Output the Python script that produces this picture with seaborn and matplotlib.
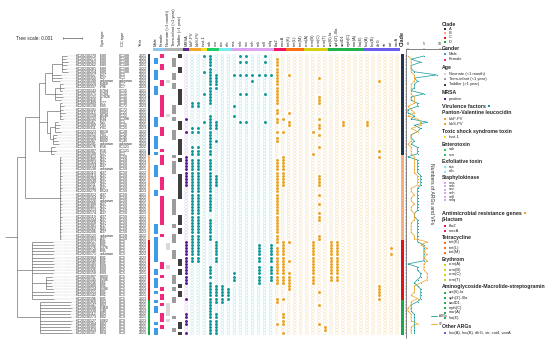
import matplotlib
matplotlib.use("Agg")
import matplotlib.pyplot as plt
import numpy as np
import pandas as pd
import seaborn as sns

sns.set_theme(style="white")
plt.rcParams["font.family"] = ["Liberation Sans", "DejaVu Sans"]

# ---------------- data ----------------
clade = ("A" * 32) + ("B" * 27) + ("C" * 19) + ("D" * 11)
gender = ("FMMFFMMMFFMMMFFFFFFFMMMFFFMMMMFM"
          "FFFMMMMFFFFMMFFFFFFFFFMMMFM"
          "MMMMMMMFFMMFMMMFMFF"
          "MFMMFFFMFMM")
age = ("DTTTDDTTNTTDDDDDTTTNTDDDTTTDDDDD"
       "TDTTTTDDDDDDDDTTTTTDDDTDDTT"
       "TNNTTTDDNDDTTTDTDDT"
       "TNNNNTNDDTD")
mrsa = "20,24,32-41,59-72,77,82-85,88"

vf_names = ["lukF-PV", "lukS-PV", "tsst-1", "sak", "scn", "eta", "etb",
            "sea", "seb", "sec", "seh", "sek", "sell", "selq"]
vf_rows = ["15-16,23-24,29-31,33-65", "15-16,23-24,29-31,33-65", "0,5,12,21",
           "0-15,19-31,33-49,52-58,67-70,72-88", "6-10,21-23,27,38-41,59-65,73-78,82-88",
           "73-78", "74-77", "6,16,19,69-71", "0,2,6,12,21", "0,2,6,12,21",
           "6,8", "6,60-65,67-72", "0,2,6,12,21", "6,60-65,67-71"]
arg_names = ["blaZ", "mecA", "tet(K)", "tet(L)", "tet(M)", "erm(A)", "erm(B)",
             "erm(C)", "erm(T)", "ant(6)-Ia", "aph(3')-IIIa", "aadD1", "mph(C)",
             "msr(A)", "lsa(E)", "lnu(A)", "lnu(B)", "dfrG", "str", "cat", "vanA"]
arg_rows = ["1-15,17-18,20-21,24,26-27,33-59,61-72,77-78,85",
            "20,24,32-41,59-72,77,82-85,88", "6,18,21-22,59,65,69-74", "", "",
            "", "24,31,59-72", "7,13-15,20,22-23,25,29,38-41,44,47,50-52,57-58,75,79,85",
            "86-87", "59-71", "59-71", "21-22", "", "", "", "21-22", "",
            "8,30,32,73-77", "", "61,63", ""]

ids = ["HC20230270", "HC20230271", "HC20230263", "HC20230262", "HC20230281", "HC20230254",
       "HC20230317", "HC20230355", "HC20230199", "HC20230229", "HC20230337", "HC20230243",
       "HC20230371", "HC20230131", "HC20230416", "HC20230409", "HC20230130", "HC20230101",
       "HC20230115", "HC20230128", "HC20230132", "HC20230167", "HC20230389", "HC20230311",
       "HC20230223", "HC20230252", "HC20230120", "HC20230287", "HC20230291", "HC20230176",
       "HC20230307", "HC20230190", "HC20230413", "HC20230405", "HC20230164", "HC20230234",
       "HC20230138", "HC20230110", "HC20230114", "HC20230294", "HC20230349", "HC20230211",
       "HC20230141", "HC20230279", "HC20230312", "HC20230154", "HC20230226", "HC20230388",
       "HC20230401", "HC20230213", "HC20230174", "HC20230119", "HC20230244", "HC20230358",
       "HC20230381", "HC20230262", "HC20230286", "HC20230122", "HC20230303", "HC20230217",
       "HC20230102", "HC20230276", "HC20230140", "HC20230171", "HC20230364", "HC20230249",
       "HC20230105", "HC20230382", "HC20230326", "HC20230158", "HC20230397", "HC20230145",
       "HC20230236", "HC20230400", "HC20230124", "HC20230321", "HC20230142", "HC20230196",
       "HC20230369", "HC20230147", "HC20230208", "HC20230330", "HC20230112", "HC20230273",
       "HC20230127", "HC20230384", "HC20230305", "HC20230419", "HC20230197"]
spa = (["t189"] * 6 + ["t127", "t127", "unknown", "t2460", "t796", "t1784", "t1784", "t17826",
        "t6", "t177", "t605", "t2883", "t2883", "t4549", "t034", "t127", "t701", "t701",
        "t3018", "t701", "t3092", "t3092", "unknown", "t216", "t216", "t127"]
       + ["t437"] * 4 + ["unknown"] + ["t437"] * 6 + ["t3523", "t437", "t437", "unknown"]
       + ["t437"] * 8 + ["t441", "t437", "unknown", "t437"]
       + ["t091", "t091", "t1376", "t091", "unknown", "t091", "t091", "t091", "t209",
          "t209", "t209", "t3092", "t2206", "t091", "t091", "t2206", "t091", "t091", "t091"]
       + ["t002", "t002", "t2460", "t548", "t002", "t002", "t1062", "t002", "t002", "t002", "t954"])
cc_type = (["CC188"] * 6 + ["CC1", "CC1", "unknown", "CC7", "CC7", "CC15", "CC15", "CC15",
            "CC30", "CC30", "CC72", "CC72", "CC22", "CC22", "CC398", "CC1", "CC25", "CC25",
            "CC20", "CC20", "CC45", "CC45", "unknown", "CC121", "CC121", "CC1"]
           + ["CC59"] * 27
           + ["CC5"] * 19
           + ["CC9"] * 11)
year = ["2021", "2022", "2023", "2021", "2022", "2023", "2021", "2023", "2022", "2022",
        "2023", "2021", "2022", "2023", "2022", "2021", "2023", "2022", "2021", "2022",
        "2023", "2022", "2021", "2023", "2022", "2023", "2021", "2022", "2023", "2022",
        "2021", "2023", "2022", "2021", "2023", "2022", "2021", "2022", "2023", "2022",
        "2021", "2023", "2022", "2023", "2021", "2022", "2023", "2021", "2022", "2022",
        "2023", "2021", "2022", "2023", "2022", "2021", "2023", "2022", "2021", "2022",
        "2023", "2022", "2021", "2022", "2023", "2021", "2022", "2023", "2022", "2021",
        "2023", "2022", "2021", "2022", "2023", "2022", "2021", "2023", "2022", "2022",
        "2021", "2023", "2022", "2021", "2023", "2022", "2021", "2022", "2023"]

# tree pieces (newick, branch lengths in units of 1/19 of 0.001 substitutions)
nw_A1a = "((0:5,1:4,2:6,3:5,4:4,5:6):10,6:9,7:10,8:8):7"
nw_A1b = "((9:3,10:4,11:2):5,12:7,13:8,14:6):10"
nw_A2a = "(15:2,16:4,17:3,18:5,19:2,20:3):13"
nw_A2b = "((21:3,22:5,23:4,24:6):5,(25:4,26:3,27:5,28:6):3):3"
nw_A3 = "(29:4,30:5,31:3):12"
nw_B = ("(32:1,33:0.5,34:1.5,35:1,36:0.5,37:1,38:1.5,39:1,40:0.5,41:1,42:1.5,43:1,44:0.5,"
        "45:1,46:1,47:1.5,48:0.5,49:1,50:1,51:1.5,52:0.5,53:1,54:1,55:1.5,56:0.5,57:1,58:1):35")
nw_C = ("((59:21,60:22,61:21,62:22,63:21,64:22,65:21,66:22,67:21,68:22,69:21,"
        "(70:6,71:7,72:5,73:6,74:7):14,75:22,76:21,77:22):7):8")
nw_D = "(78:31,79:30,80:32,81:31,82:30,83:31,84:32,85:31,86:30,87:31,88:32):23"
nw_A = "((" + nw_A1a + "," + nw_A1b + "):6,(" + nw_A2a + "," + nw_A2b + "):8," + nw_A3 + "):14"
nw_AB = "(" + nw_A + "," + nw_B + "):8"
tree_newick = "((" + nw_AB + "," + nw_C + "," + nw_D + "):9)"

# ---------------- helpers ----------------
def expand(spec):
    out = set()
    for part in spec.split(","):
        part = part.strip()
        if not part:
            continue
        if "-" in part:
            a, b = part.split("-")
            out.update(range(int(a), int(b) + 1))
        else:
            out.add(int(part))
    return out


def parse_newick(s):
    pos = 0

    def node():
        nonlocal pos
        children, name = [], ""
        if s[pos] == "(":
            pos += 1
            while True:
                children.append(node())
                if s[pos] == ",":
                    pos += 1
                    continue
                pos += 1
                break
        while pos < len(s) and s[pos] not in ":,);":
            name += s[pos]
            pos += 1
        length = 0.0
        if pos < len(s) and s[pos] == ":":
            pos += 1
            num = ""
            while pos < len(s) and s[pos] not in ",);":
                num += s[pos]
                pos += 1
            length = float(num)
        return {"name": name, "len": length, "children": children}

    return node()


n = len(clade)
rows = np.arange(n)

W, H = 550, 341
fig = plt.figure(figsize=(W / 100, H / 100), dpi=100)


def px_axes(x0, x1, y0, y1):
    return fig.add_axes([x0 / W, 1 - y1 / H, (x1 - x0) / W, (y1 - y0) / H])


TOP, BOT, R0, DR = 48.5, 338.0, 56.0, 3.15
YLIM = ((BOT - R0) / DR, (TOP - R0) / DR)
COL0, DC = 156.0, 6.03


def kx(px):
    return (px - COL0) / DC


clade_col = {"A": "#22344f", "B": "#f6ae7c", "C": "#e3101b", "D": "#1aa64a"}
teal, teal_off = "#10999a", "#bfe8ec"
orng, orng_off = "#eea324", "#f8e2b8"
purp, purp_off = "#5c1a97", "#dccdef"

# ---------------- tree ----------------
axt = px_axes(0, 77, TOP, BOT)
axt.set_xlim(0, 77)
axt.set_ylim(*YLIM)
axt.axis("off")
root = parse_newick(tree_newick)


def layout(nd, x):
    nd["x"] = x + nd["len"]
    if not nd["children"]:
        nd["y"] = float(nd["name"])
    else:
        for c in nd["children"]:
            layout(c, nd["x"])
        ys = [c["y"] for c in nd["children"]]
        nd["y"] = (min(ys) + max(ys)) / 2


layout(root, 8.0)
segs_h, segs_v = [], []


def collect(nd, parent_x):
    segs_h.append((nd["y"], parent_x, nd["x"]))
    if nd["children"]:
        ys = [c["y"] for c in nd["children"]]
        segs_v.append((nd["x"], min(ys), max(ys)))
        for c in nd["children"]:
            collect(c, nd["x"])
    else:
        axt.hlines(nd["y"], nd["x"], 76.5, colors="#a0a0a0", linewidth=0.3, linestyles=(0, (1, 1.2)))


collect(root, 5.0)
for y, a, b in segs_h:
    axt.hlines(y, a, b, colors="#505050", linewidth=0.4)
for x, a, b in segs_v:
    axt.vlines(x, a, b, colors="#505050", linewidth=0.4)

# ---------------- table ----------------
axm = px_axes(74, 406, TOP, BOT)
axm.set_xlim(kx(74), kx(406))
axm.set_ylim(*YLIM)
axm.axis("off")

fs_row = 2.5
for r in rows:
    axm.text(kx(76), r, ids[r], fontsize=fs_row, va="center", ha="left")
    axm.text(kx(100), r, spa[r], fontsize=fs_row, va="center", ha="left")
    axm.text(kx(119), r, cc_type[r], fontsize=fs_row, va="center", ha="left")
    axm.text(kx(139), r, year[r], fontsize=fs_row, va="center", ha="left")

clade_colors = [clade_col[c] for c in clade]
axm.barh(rows, 0.33, left=kx(148), height=1.0, color=clade_colors, linewidth=0)
axm.barh(rows, 0.55, left=kx(400.5), height=1.0, color=clade_colors, linewidth=0)

# gender / age squares
sq = []
for r in rows:
    sq.append({"col": 0 if gender[r] == "M" else 1, "row": r,
               "kind": "Male" if gender[r] == "M" else "Female"})
    sq.append({"col": {"N": 2, "T": 3, "D": 4}[age[r]], "row": r, "kind": age[r]})
sq = pd.DataFrame(sq)
sq_pal = {"Male": "#3d9be9", "Female": "#f0287e", "N": "#d9d9d9", "T": "#9c9c9c", "D": "#3f3f3f"}
sns.scatterplot(data=sq, x="col", y="row", hue="kind", palette=sq_pal, marker="s", s=5.5,
                linewidth=0, legend=False, ax=axm)

# circles
circ = []
mrsa_set = expand(mrsa)
for r in rows:
    circ.append({"col": 5, "row": r, "on": r in mrsa_set, "grp": "mrsa"})
for j, spec in enumerate(vf_rows):
    s = expand(spec)
    for r in rows:
        circ.append({"col": 6 + j, "row": r, "on": r in s, "grp": "vf"})
for j, spec in enumerate(arg_rows):
    s = expand(spec)
    for r in rows:
        circ.append({"col": 20 + j, "row": r, "on": r in s, "grp": "arg"})
circ = pd.DataFrame(circ)
on_c = {"mrsa": purp, "vf": teal, "arg": orng}
off_c = {"mrsa": purp_off, "vf": teal_off, "arg": orng_off}
for g in ["mrsa", "vf", "arg"]:
    d_off = circ[(circ.grp == g) & (~circ.on)]
    sns.scatterplot(data=d_off, x="col", y="row", marker="o", s=4.2, color=off_c[g],
                    facecolor="none", edgecolor=off_c[g], linewidth=0.35, ax=axm)
    d_on = circ[(circ.grp == g) & (circ.on)]
    sns.scatterplot(data=d_on, x="col", y="row", marker="o", s=4.6, color=on_c[g],
                    linewidth=0, ax=axm)

# header strip and labels
groups = [(0, 2, "#8ec6ee"), (2, 3, "#b3b3b3"), (5, 1, "#5a2590"), (6, 2, "#f6a52a"),
          (8, 1, "#f2e31c"), (9, 2, "#1fcf6a"), (11, 2, "#78ecee"), (13, 7, "#dca4f2"),
          (20, 2, "#ef1564"), (22, 3, "#ff6d12"), (25, 4, "#d9cf12"), (29, 6, "#22b24a"),
          (35, 6, "#6b5cf0")]
for start, w, c in groups:
    axm.barh(-2.06, w, left=start - 0.5, height=0.9, color=c, linewidth=0, clip_on=False)
headers = (["Male", "Female", "Neonate (<1 month)", "Term-infant (<1 year)", "Toddler (>1 year)",
            "MRSA"] + vf_names + arg_names)
hy = (46 - R0) / DR
for k, h in enumerate(headers):
    axm.text(k, hy, h, rotation=90, fontsize=2.9, ha="center", va="bottom", clip_on=False)
for px, h in [(103, "Spa type"), (123, "CC type"), (141, "Year")]:
    axm.text(kx(px), hy, h, rotation=90, fontsize=2.9, ha="center", va="bottom", clip_on=False)
axm.text(kx(402), hy, "Clade", rotation=90, fontsize=4.0, fontweight="bold",
         ha="center", va="bottom", clip_on=False)

# ---------------- line chart ----------------
vf_mat = np.array([[r in expand(s) for r in rows] for s in vf_rows])
arg_mat = np.array([[r in expand(s) for r in rows] for s in arg_rows])
vf_count = vf_mat.sum(axis=0)
arg_count = arg_mat.sum(axis=0)
axl = px_axes(406, 447, TOP, BOT)
axl.set_ylim(*YLIM)
axl.set_xlim(-0.6, 12.2)
ld = pd.DataFrame({"row": np.r_[rows, rows], "count": np.r_[vf_count, arg_count],
                   "series": ["ARGs"] * n + ["VF"] * n})
sns.lineplot(data=ld, x="count", y="row", hue="series", palette={"ARGs": teal, "VF": orng},
             orient="y", sort=False, linewidth=0.5, marker="o", markersize=0.8,
             markeredgewidth=0, legend=False, ax=axl)
for sp in ["right", "bottom"]:
    axl.spines[sp].set_visible(False)
for sp in ["top", "left"]:
    axl.spines[sp].set_linewidth(0.4)
    axl.spines[sp].set_color("#222222")
axl.xaxis.tick_top()
axl.set_xticks([0, 5, 10])
axl.tick_params(axis="x", labelsize=2.6, length=1, width=0.3, pad=0.5, top=True)
axl.set_yticks(rows)
axl.set_yticklabels([])
axl.tick_params(axis="y", length=0.8, width=0.3, left=True)
axl.set_xlabel("")
axl.set_ylabel("")
axl.patch.set_alpha(0)
axl.text(0.62, 0.50, "Numbers of ARGs and VFs", rotation=270, fontsize=3.6,
         transform=axl.transAxes, ha="center", va="center")
axl.plot([0.62, 0.76], [0.075, 0.075], color=teal, lw=0.6, transform=axl.transAxes)
axl.text(0.80, 0.075, "ARGs", fontsize=2.2, va="center", transform=axl.transAxes)
axl.plot([0.62, 0.76], [0.047, 0.047], color=orng, lw=0.6, transform=axl.transAxes)
axl.text(0.80, 0.047, "VF", fontsize=2.2, va="center", transform=axl.transAxes)

# ---------------- legend & annotations ----------------
axg = px_axes(0, W, 0, H)
axg.set_xlim(0, W)
axg.set_ylim(H, 0)
axg.axis("off")
axg.patch.set_alpha(0)
axg.text(16, 38, "Tree scale: 0.001", fontsize=3.4, va="center", ha="left")
axg.hlines(38, 63, 82, color="#333333", lw=0.4)
axg.vlines([63, 82], 37, 39, color="#333333", lw=0.4)

legend_items = [
    ("h", "Clade", 24), ("i", "A", 29, clade_col["A"]), ("i", "B", 33, clade_col["B"]),
    ("i", "C", 37.5, clade_col["C"]), ("i", "D", 42, clade_col["D"]),
    ("h", "Gender", 48), ("i", "Male", 54, "#3d9be9"), ("i", "Female", 59.5, "#f0287e"),
    ("h", "Age", 67), ("i", "Neonate (<1 month)", 73.5, "#d9d9d9"),
    ("i", "Term-infant (<1 year)", 79, "#9c9c9c"), ("i", "Toddler (>1 year)", 84.5, "#3f3f3f"),
    ("h", "MRSA", 93), ("i", "positive", 99, purp),
    ("H", "Virulence factors", 106, teal), ("h", "Panton-Valentine leucocidin", 113),
    ("i", "lukF-PV", 119, orng), ("i", "lukS-PV", 124, orng),
    ("h", "Toxic shock syndrome toxin", 131), ("i", "tsst-1", 137, "#f2e31c"),
    ("h", "Enterotoxin", 144), ("i", "sak", 149.5, "#1fcf6a"), ("i", "scn", 154.5, "#1fcf6a"),
    ("h", "Exfoliative toxin", 161.5), ("i", "eta", 167, "#78ecee"), ("i", "etb", 171.5, "#78ecee"),
    ("h", "Staphylokinase", 177), ("i", "sea", 182.5, "#dca4f2"), ("i", "seb", 186, "#dca4f2"),
    ("i", "sec", 189.5, "#dca4f2"), ("i", "seh", 193, "#dca4f2"), ("i", "sell", 196.5, "#dca4f2"),
    ("i", "selq", 200, "#dca4f2"),
    ("H", "Antimicrobial resistance genes", 213, orng), ("h", "\u03b2-lactam", 219.5),
    ("i", "blaZ", 226, "#ef1564"), ("i", "mecA", 231, "#ef1564"),
    ("h", "Tetracycline", 237), ("i", "tet(K)", 242.5, "#ff6d12"), ("i", "tet(L)", 247.5, "#ff6d12"),
    ("i", "tet(M)", 252.5, "#ff6d12"),
    ("h", "Erythrom", 259), ("i", "erm(A)", 264.5, "#d9cf12"), ("i", "erm(B)", 269.5, "#d9cf12"),
    ("i", "erm(C)", 274.5, "#d9cf12"), ("i", "erm(T)", 279.5, "#d9cf12"),
    ("h", "Aminoglycoside-Macrolide-streptogramin", 286.5), ("i", "ant(6)-Ia", 292.5, "#22b24a"),
    ("i", "aph(3')-IIIa", 297.5, "#22b24a"), ("i", "aadD1", 302.5, "#22b24a"),
    ("i", "mph(C)", 307.5, "#22b24a"), ("i", "msr(A)", 312.5, "#22b24a"),
    ("i", "lsa(E)", 317.5, "#22b24a"),
    ("h", "Other ARGs", 327), ("i", "lnu(A), lnu(B), dfrG, str, cat4, vanA", 333, "#6b5cf0"),
]
fig.canvas.draw()
for it in legend_items:
    kind, label, y = it[0], it[1], it[2]
    if kind == "h":
        axg.text(442, y, label, fontsize=3.7, fontweight="bold", va="center", ha="left")
    elif kind == "H":
        t = axg.text(442, y, label, fontsize=3.9, fontweight="bold", va="center", ha="left")
        bb = t.get_window_extent(renderer=fig.canvas.get_renderer())
        xe = axg.transData.inverted().transform((bb.x1, bb.y0))[0]
        axg.scatter([xe + 3], [y], s=2.5, marker="s", color=it[3], linewidth=0)
    else:
        axg.scatter([445], [y], s=2.2, marker="s", color=it[3], linewidth=0)
        axg.text(449, y, label, fontsize=2.9, va="center", ha="left")

fig.savefig("out.png", dpi=100)
